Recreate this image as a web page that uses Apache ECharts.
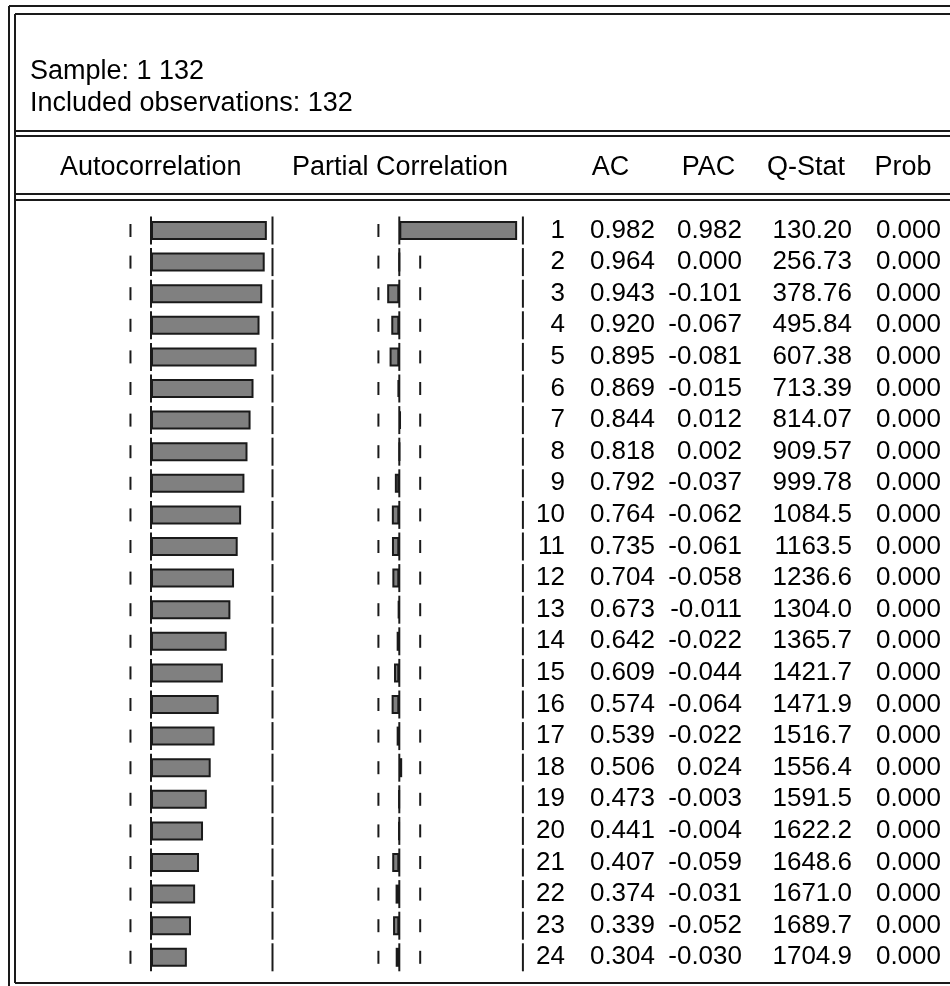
<!DOCTYPE html>
<html>
<head>
<meta charset="utf-8">
<script src="https://cdn.jsdelivr.net/npm/echarts@6/dist/echarts.min.js"></script>
<style>
html,body{margin:0;padding:0;background:#fff;}
#chart{width:950px;height:986px;}
</style>
</head>
<body>
<div id="chart"></div>
<script>
// ---- data ----
const sampleLabel = 'Sample: 1 132';
const obsLabel = 'Included observations: 132';
const sampleSize = 132;
const lags = [1,2,3,4,5,6,7,8,9,10,11,12,13,14,15,16,17,18,19,20,21,22,23,24];
const acValues = [0.982,0.964,0.943,0.920,0.895,0.869,0.844,0.818,0.792,0.764,0.735,0.704,0.673,0.642,0.609,0.574,0.539,0.506,0.473,0.441,0.407,0.374,0.339,0.304];
const pacValues = [0.982,0.000,-0.101,-0.067,-0.081,-0.015,0.012,0.002,-0.037,-0.062,-0.061,-0.058,-0.011,-0.022,-0.044,-0.064,-0.022,0.024,-0.003,-0.004,-0.059,-0.031,-0.052,-0.030];
const qStatValues = [130.20,256.73,378.76,495.84,607.38,713.39,814.07,909.57,999.78,1084.5,1163.5,1236.6,1304.0,1365.7,1421.7,1471.9,1516.7,1556.4,1591.5,1622.2,1648.6,1671.0,1689.7,1704.9];
const probValues = [0,0,0,0,0,0,0,0,0,0,0,0,0,0,0,0,0,0,0,0,0,0,0,0];
const panelHeaders = ['Autocorrelation','Partial Correlation'];
const columnHeaders = ['AC','PAC','Q-Stat','Prob'];

// ---- layout / style ----
const FONT = "'Liberation Sans', Arial, sans-serif";
const rowTop = 214.7, rowsHeight = 758.4;
const axisLimit = 1.03;
const confBound = 2 / Math.sqrt(sampleSize);
const lineColor = '#1a1a1a';

const fmt3 = v => v.toFixed(3);
const fmtQ = v => (v >= 1000 ? v.toFixed(1) : v.toFixed(2));

const textColumns = [
  {right: 565, values: lags, f: v => String(v)},
  {right: 655, values: acValues, f: fmt3},
  {right: 742, values: pacValues, f: fmt3},
  {right: 852, values: qStatValues, f: fmtQ},
  {right: 941, values: probValues, f: fmt3}
];

const grids = [
  {left: 29.5, width: 243, top: rowTop, height: rowsHeight, outerBoundsMode: 'none'},
  {left: 275.7, width: 247.2, top: rowTop, height: rowsHeight, outerBoundsMode: 'none'}
];
textColumns.forEach(c => grids.push({left: c.right, width: 1, top: rowTop, height: rowsHeight, outerBoundsMode: 'none'}));

const xAxes = grids.map((g, i) => ({
  type: 'value', gridIndex: i, min: -axisLimit, max: axisLimit, show: false
}));
const yAxes = grids.map((g, i) => {
  const base = {type: 'category', gridIndex: i, data: lags.map(String), inverse: true,
    axisLine: {show: false}, axisTick: {show: false}, splitLine: {show: false}};
  if (i < 2) {
    base.axisLabel = {show: false};
  } else {
    const col = textColumns[i - 2];
    base.axisLabel = {show: true, interval: 0, margin: 0, fontSize: 26, fontFamily: FONT, color: '#000',
      formatter: (v, idx) => col.f(col.values[idx])};
  }
  return base;
});

function segs(axisIdx, xVal, h, z) {
  return {
    type: 'scatter', xAxisIndex: axisIdx, yAxisIndex: axisIdx, silent: true, z: z,
    symbol: 'rect', symbolSize: [2, h],
    itemStyle: {color: lineColor, opacity: 1},
    data: lags.map((l, i) => [xVal, i])
  };
}
function bars(axisIdx, vals) {
  return {
    type: 'bar', xAxisIndex: axisIdx, yAxisIndex: axisIdx, barWidth: 19, z: 3, silent: true,
    itemStyle: {color: '#808080', borderColor: lineColor, borderWidth: 2},
    data: vals
  };
}

const series = [];
[0, 1].forEach(k => {
  series.push(segs(k, -confBound, 13, 1));
  series.push(segs(k, confBound, 13, 1));
  series.push(segs(k, 0, 28, 4));
  series.push(segs(k, axisLimit, 28, 4));
});
series.push(bars(0, acValues));
series.push(bars(1, pacValues));
for (let i = 2; i < grids.length; i++) {
  series.push({type: 'scatter', xAxisIndex: i, yAxisIndex: i, symbolSize: 0, silent: true, data: []});
}

// decoration: frame and headers
const gfx = [];
function hline(x1, x2, y) { gfx.push({type: 'line', shape: {x1, y1: y, x2, y2: y}, style: {stroke: lineColor, lineWidth: 2}, silent: true}); }
function vline(x, y1, y2) { gfx.push({type: 'line', shape: {x1: x, y1, x2: x, y2}, style: {stroke: lineColor, lineWidth: 2}, silent: true}); }
hline(9, 950, 6); hline(15, 950, 14);
vline(9, 6, 986); vline(15, 14, 983);
hline(15, 950, 983);
hline(15, 950, 131); hline(15, 950, 136);
hline(15, 950, 194); hline(15, 950, 200);
function txt(t, x, y, align) {
  gfx.push({type: 'text', silent: true, style: {text: t, x, y, font: '27px ' + FONT, fill: '#000',
    align: align, textAlign: align, verticalAlign: 'middle', textVerticalAlign: 'middle'}});
}
txt(sampleLabel, 30, 72, 'left');
txt(obsLabel, 30, 104, 'left');
txt(panelHeaders[0], 60, 168, 'left');
txt(panelHeaders[1], 292, 168, 'left');
const colHeaderCenters = [610.5, 708.5, 806, 903];
columnHeaders.forEach((h, i) => txt(h, colHeaderCenters[i], 168, 'center'));

const chart = echarts.init(document.getElementById('chart'), null, {renderer: 'canvas'});
chart.setOption({
  animation: false,
  backgroundColor: '#fff',
  grid: grids, xAxis: xAxes, yAxis: yAxes, series: series, graphic: gfx
});
</script>
</body>
</html>
